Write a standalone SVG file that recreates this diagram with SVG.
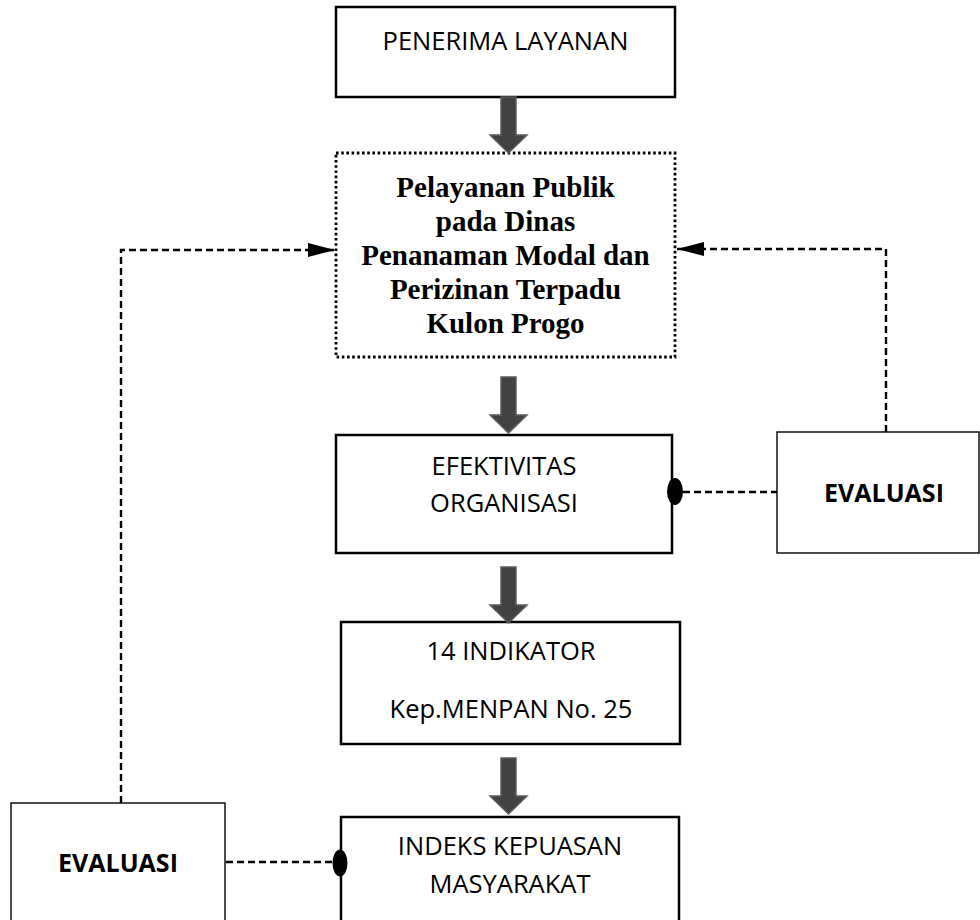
<svg xmlns="http://www.w3.org/2000/svg" width="980" height="920" viewBox="0 0 980 920">
<defs>
<style>
.box{fill:#fff;stroke:#000;stroke-width:2.5}
.thin{fill:#fff;stroke:#000;stroke-width:1.4}
.dot{fill:#fff;stroke:#000;stroke-width:2.8;stroke-dasharray:2.6 2.6}
.t{font-family:"Open Sans","Liberation Sans",sans-serif;font-size:25.5px;fill:#000;text-anchor:middle}
.tb{font-family:"Open Sans","Liberation Sans",sans-serif;font-size:25px;font-weight:bold;fill:#000;text-anchor:middle}
.ser{font-family:"Liberation Serif","Times New Roman",serif;font-size:29px;font-weight:bold;fill:#000;text-anchor:middle}
.dash{fill:none;stroke:#000;stroke-width:2.4;stroke-dasharray:7 4}
.blk{fill:#424242;stroke:#5c5c5c;stroke-width:1.5}
</style>
<path id="blkarrow" d="M-7.5 0 H7.5 V38 H18.5 L0 56 L-18.5 38 H-7.5 Z"/>
<marker id="ah" markerUnits="userSpaceOnUse" markerWidth="28" markerHeight="16" refX="27" refY="7" orient="auto" viewBox="0 0 28 16">
<path d="M0 0 L27 7 L0 14 Z" fill="#000"/>
</marker>
</defs>

<g id="penerima">
<rect class="box" x="336" y="7" width="339" height="90"/>
<text class="t" x="505.5" y="50">PENERIMA LAYANAN</text>
</g>

<g id="pelayanan">
<rect class="dot" x="336" y="153" width="339" height="204"/>
<text class="ser" x="505.5" y="197">Pelayanan Publik</text>
<text class="ser" x="505.5" y="231">pada Dinas</text>
<text class="ser" x="505.5" y="265">Penanaman Modal dan</text>
<text class="ser" x="505.5" y="299">Perizinan Terpadu</text>
<text class="ser" x="505.5" y="333">Kulon Progo</text>
</g>

<g id="efektivitas">
<rect class="box" x="336" y="435" width="336" height="118"/>
<text class="t" x="504" y="475">EFEKTIVITAS</text>
<text class="t" x="504" y="512">ORGANISASI</text>
</g>

<g id="evaluasi-kanan">
<rect class="thin" x="777" y="432" width="202" height="121"/>
<text class="tb" x="884" y="502">EVALUASI</text>
</g>

<g id="indikator">
<rect class="box" x="341" y="622" width="339" height="122"/>
<text class="t" x="511" y="660">14 INDIKATOR</text>
<text class="t" x="511" y="718">Kep.MENPAN No. 25</text>
</g>

<g id="indeks">
<rect class="box" x="341" y="817" width="338" height="110"/>
<text class="t" x="510" y="855">INDEKS KEPUASAN</text>
<text class="t" x="510" y="893">MASYARAKAT</text>
</g>

<g id="evaluasi-kiri">
<rect class="thin" x="11" y="803" width="214" height="130"/>
<text class="tb" x="118" y="872">EVALUASI</text>
</g>

<g id="connectors">
<use href="#blkarrow" class="blk" x="508.5" y="97"/>
<use href="#blkarrow" class="blk" x="508.5" y="377"/>
<use href="#blkarrow" class="blk" x="508.5" y="567"/>
<use href="#blkarrow" class="blk" x="508.5" y="758"/>
<path class="dash" d="M121 803 V250 H335" marker-end="url(#ah)"/>
<path class="dash" d="M886 432 V249 H677" marker-end="url(#ah)"/>
<path class="dash" d="M683 492 H777"/>
<path class="dash" d="M226 862 H333"/>
<ellipse cx="675" cy="491.5" rx="8" ry="13.5" fill="#000"/>
<ellipse cx="340" cy="863" rx="7.5" ry="13.5" fill="#000"/>
</g>
</svg>
